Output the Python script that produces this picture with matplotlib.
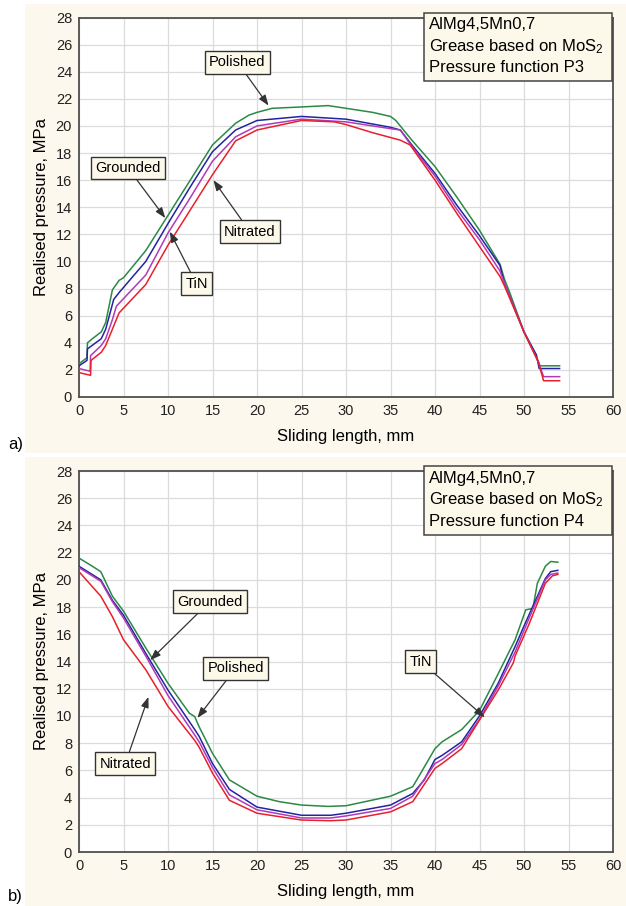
import matplotlib
matplotlib.use("Agg")
import matplotlib.pyplot as plt
from matplotlib.patches import Rectangle

plt.rcParams['font.family'] = ['Liberation Sans', 'DejaVu Sans']
plt.rcParams['mathtext.default'] = 'regular'

# ---------------- data: panel a) pressure function P3 ----------------
a_pol_x = [0, 0.9, 0.95, 1.5, 2.5, 3.0, 3.75, 4.5, 5, 7.5, 10, 12.5, 15, 17.6, 19.1, 20, 21.7, 25, 28, 30, 33, 35, 35.6, 37.4, 40, 42.4, 45, 47.3, 47.8, 48.4, 50, 51, 51.5, 51.8, 54]
a_pol_y = [2.45, 2.9, 4.0, 4.3, 4.8, 5.5, 7.9, 8.6, 8.8, 10.8, 13.4, 16.0, 18.6, 20.2, 20.8, 21.0, 21.3, 21.4, 21.5, 21.3, 21.0, 20.7, 20.4, 18.95, 17.0, 14.8, 12.3, 9.8, 8.7, 7.7, 4.8, 3.5, 2.8, 2.3, 2.3]
a_grd_x = [0, 0.9, 0.95, 2.5, 3.0, 3.9, 4.5, 7.5, 10, 12.5, 15, 17.6, 20, 25, 30, 35, 36.1, 37.4, 40, 42.4, 45, 47.3, 47.8, 50, 51.4, 51.7, 54]
a_grd_y = [2.3, 2.7, 3.55, 4.3, 5.0, 7.2, 7.7, 10.0, 12.8, 15.5, 18.1, 19.7, 20.4, 20.7, 20.5, 19.9, 19.7, 18.6, 16.5, 14.2, 11.9, 9.7, 8.4, 4.8, 3.1, 2.1, 2.1]
a_tin_x = [0, 1.25, 1.3, 2.5, 3.0, 3.75, 4.2, 7.5, 10, 12.5, 15, 17.6, 20, 25, 30, 35, 36.1, 37.4, 40, 42.4, 45, 47.3, 47.8, 50, 51.6, 52.2, 54]
a_tin_y = [2.1, 1.9, 3.05, 3.8, 4.3, 5.7, 6.7, 9.0, 12.1, 14.7, 17.4, 19.2, 20.0, 20.5, 20.3, 19.8, 19.7, 18.5, 16.3, 13.9, 11.6, 9.3, 8.4, 4.8, 2.6, 1.5, 1.5]
a_nit_x = [0, 1.3, 1.35, 2.5, 3.0, 3.75, 4.5, 7.5, 10, 12.5, 15, 17.6, 20, 25, 28.7, 30, 33, 36.1, 37.2, 40, 42.4, 45, 47.3, 47.8, 50, 51.6, 52.2, 54]
a_nit_y = [1.8, 1.6, 2.7, 3.3, 3.8, 5.0, 6.2, 8.3, 11.2, 13.8, 16.4, 18.9, 19.7, 20.4, 20.3, 20.1, 19.5, 18.95, 18.6, 16.0, 13.6, 11.1, 8.9, 8.2, 4.8, 2.6, 1.2, 1.2]

# ---------------- data: panel b) pressure function P4 ----------------
b_pol_x = [0, 1.5, 2.45, 3.75, 5, 7.5, 10, 12.4, 13, 13.5, 15, 16.9, 20, 22.5, 25, 28, 30, 35, 37.5, 38.4, 40, 40.8, 43, 45, 47.1, 49, 50.2, 51.0, 51.5, 52.4, 53, 53.8]
b_pol_y = [21.6, 21.0, 20.6, 18.8, 17.7, 15.0, 12.4, 10.2, 9.95, 9.2, 7.25, 5.3, 4.1, 3.7, 3.45, 3.35, 3.4, 4.1, 4.8, 5.8, 7.6, 8.1, 9.0, 10.4, 13.1, 15.6, 17.8, 17.9, 19.75, 21.0, 21.35, 21.3]
b_grd_x = [0, 2.45, 3.75, 5, 7.5, 10, 13, 13.5, 15, 16.9, 20, 25, 28.3, 30, 35, 37.5, 38.8, 40, 40.8, 43, 45, 47.1, 49, 50.2, 51.3, 52.4, 53, 53.8]
b_grd_y = [21.0, 20.0, 18.5, 17.4, 14.6, 11.9, 9.0, 8.5, 6.5, 4.6, 3.3, 2.7, 2.7, 2.85, 3.45, 4.3, 5.3, 6.8, 7.1, 8.1, 10.0, 12.4, 15.1, 16.9, 18.5, 20.1, 20.6, 20.7]
b_tin_x = [0, 2.45, 3.75, 5, 7.5, 10, 13, 13.5, 15, 16.9, 20, 25, 28.3, 30, 35, 37.5, 40, 40.8, 43, 45, 47.1, 49, 50.2, 52.4, 53, 53.8]
b_tin_y = [20.9, 19.9, 18.4, 17.2, 14.4, 11.5, 8.6, 8.1, 6.2, 4.2, 3.1, 2.5, 2.5, 2.65, 3.2, 4.1, 6.5, 6.8, 7.9, 9.75, 12.2, 14.7, 16.6, 20.0, 20.4, 20.5]
b_nit_x = [0, 2.45, 3.75, 5, 7.5, 10, 13, 13.5, 15, 16.9, 20, 25, 28.3, 30, 35, 37.5, 40, 40.8, 43, 45, 47.1, 48.8, 49, 50.6, 52.4, 53.2, 53.8]
b_nit_y = [20.6, 18.8, 17.3, 15.6, 13.4, 10.7, 8.2, 7.7, 5.8, 3.8, 2.85, 2.35, 2.3, 2.35, 2.95, 3.7, 6.15, 6.5, 7.6, 9.7, 11.9, 13.9, 14.4, 16.8, 19.75, 20.3, 20.4]

series_names = ["Polished", "Grounded", "TiN", "Nitrated"]
x_ticks = list(range(0, 61, 5))
y_ticks = list(range(0, 29, 2))
info_lines_a = ["AlMg4,5Mn0,7", "Grease based on MoS$_2$", "Pressure function P3"]
info_lines_b = ["AlMg4,5Mn0,7", "Grease based on MoS$_2$", "Pressure function P4"]
x_label = "Sliding length, mm"
y_label = "Realised pressure, MPa"

# annotation placement: (label, arrow tip, text centre)
annots_a = [("Polished", (21.3, 21.5), (17.8, 24.7)),
            ("Grounded", (9.7, 13.2), (5.5, 16.9)),
            ("Nitrated", (15.1, 16.0), (19.2, 12.2)),
            ("TiN", (10.2, 12.2), (13.2, 8.35))]
annots_b = [("Grounded", (8.0, 14.1), (14.7, 18.4)),
            ("Polished", (13.3, 9.85), (17.6, 13.5)),
            ("Nitrated", (7.8, 11.4), (5.2, 6.5)),
            ("TiN", (45.6, 9.9), (38.4, 14.0))]

colors = {"Polished": "#2a8a45", "Grounded": "#2424a0", "TiN": "#b03ab8", "Nitrated": "#e8202c"}
BEIGE = "#fcf8ee"
BOXC = "#fdf9ea"
W, H = 626, 906

fig = plt.figure(figsize=(W / 100, H / 100), dpi=100)
fig.patch.set_facecolor("white")

# beige panel backgrounds
for (y0, y1) in [(4, 453), (457, 906)]:
    fig.patches.append(Rectangle((25 / W, 1 - y1 / H), 1 - 25 / W, (y1 - y0) / H,
                                 transform=fig.transFigure, facecolor=BEIGE, edgecolor="none", zorder=-5))


def make_panel(rect, data, annots, info, tag, tag_y):
    ax = fig.add_axes(rect)
    ax.set_zorder(2)
    ax.set_facecolor("white")
    ax.set_xlim(0, 60)
    ax.set_ylim(0, 28)
    ax.set_xticks(x_ticks)
    ax.set_yticks(y_ticks)
    ax.grid(True, color="#dcdcdc", lw=0.9)
    ax.set_axisbelow(True)
    for s in ax.spines.values():
        s.set_color("#505050")
        s.set_linewidth(1.3)
    ax.tick_params(length=0, pad=5, labelsize=10.5, colors="#222222")
    for lab in ax.get_xticklabels() + ax.get_yticklabels():
        lab.set_family(['Liberation Sans Narrow', 'Liberation Sans'])
    for name in ["Polished", "Grounded", "TiN", "Nitrated"]:
        xs, ys = data[name]
        ax.plot(xs, ys, color=colors[name], lw=1.1, zorder=3)
    for lab, tip, txt in annots:
        ax.annotate(lab, xy=tip, xytext=txt, ha="center", va="center", fontsize=10.5,
                    arrowprops=dict(arrowstyle="-|>,head_length=0.6,head_width=0.22",
                                    color="#333333", lw=0.9, shrinkA=0, shrinkB=0),
                    bbox=dict(boxstyle="square,pad=0.3", fc=BOXC, ec="#333333", lw=1.0),
                    zorder=5)
    ax.set_xlabel(x_label, fontsize=12, labelpad=8)
    ax.set_ylabel(y_label, fontsize=12, labelpad=5)
    # info box
    ax.add_patch(Rectangle((0.646, 0.832), 0.352, 0.180, transform=ax.transAxes,
                           facecolor=BOXC, edgecolor="#444444", lw=1.1, clip_on=False, zorder=6))
    for i, line in enumerate(info):
        ax.text(0.655, 0.981 - i * 0.057, line, transform=ax.transAxes, fontsize=12,
                va="center", ha="left", zorder=7)
    fig.text(8 / W, 1 - tag_y / H, tag, fontsize=12, va="center", ha="left")
    return ax


left = 79 / W
width = (613 - 79) / W
data_a = {"Polished": (a_pol_x, a_pol_y), "Grounded": (a_grd_x, a_grd_y),
          "TiN": (a_tin_x, a_tin_y), "Nitrated": (a_nit_x, a_nit_y)}
data_b = {"Polished": (b_pol_x, b_pol_y), "Grounded": (b_grd_x, b_grd_y),
          "TiN": (b_tin_x, b_tin_y), "Nitrated": (b_nit_x, b_nit_y)}

make_panel([left, 1 - 397 / H, width, (397 - 17.5) / H], data_a, annots_a, info_lines_a, "a)", 445)
make_panel([left, 1 - 852 / H, width, (852 - 471) / H], data_b, annots_b, info_lines_b, "b)", 897)

fig.savefig("out.png", dpi=100)
